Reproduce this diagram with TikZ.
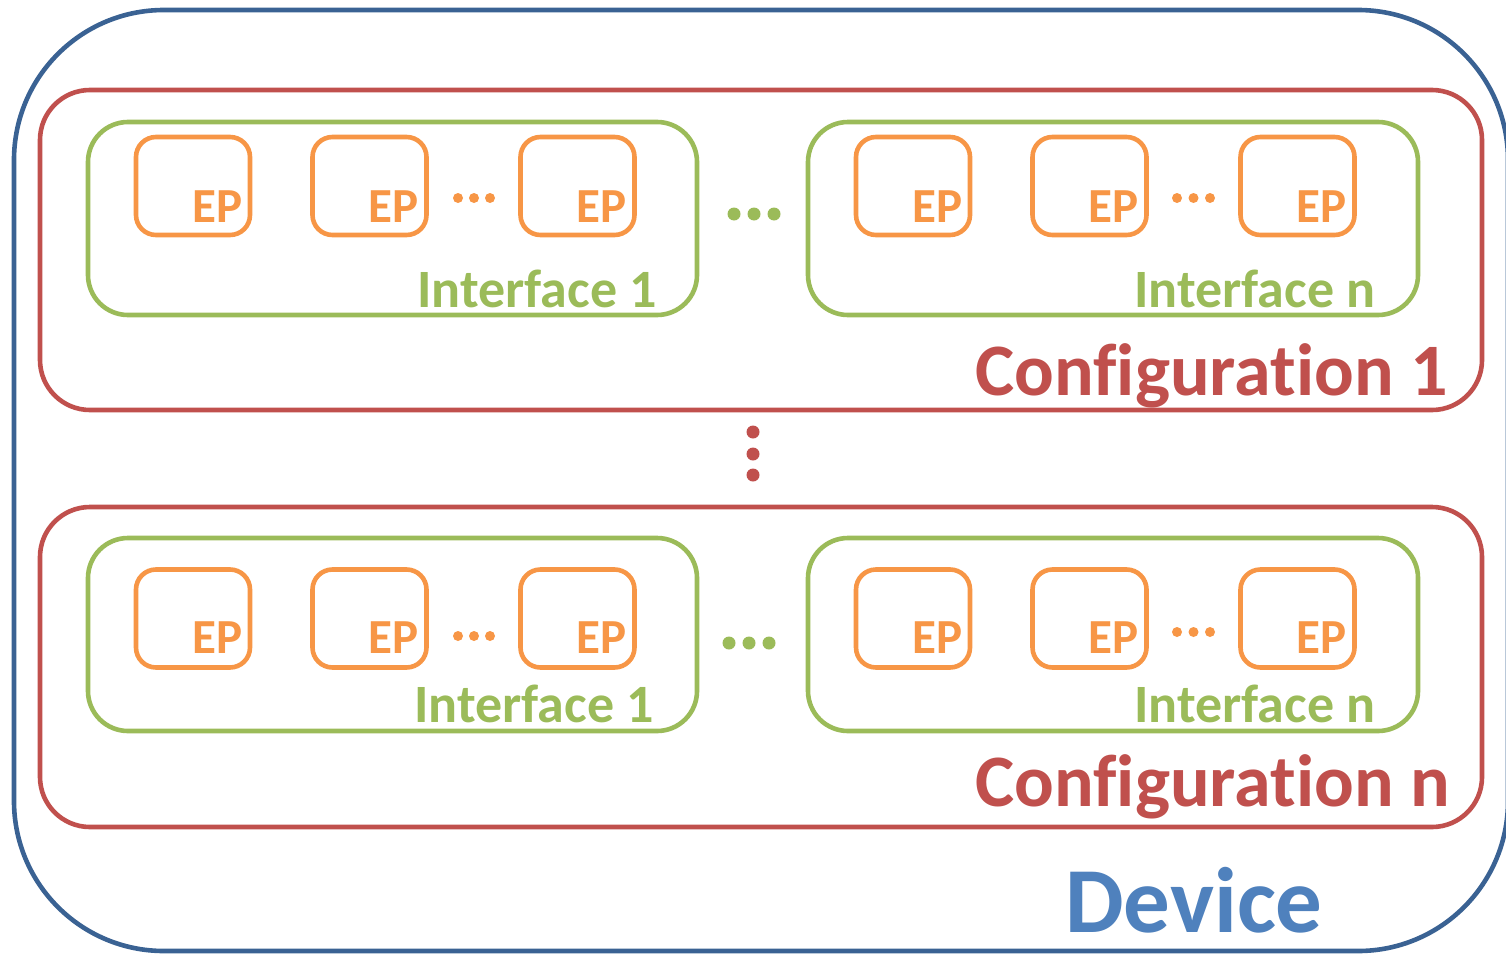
\documentclass[tikz,border=0pt]{standalone}
\usepackage{fontspec}
\setmainfont{Carlito}[RawFeature={-liga;-clig;-calt;-dlig}]
\definecolor{devline}{HTML}{3A6293}
\definecolor{devtext}{HTML}{4F81BD}
\definecolor{cfgred}{HTML}{C0504D}
\definecolor{ifgreen}{HTML}{9BBB59}
\definecolor{eporange}{HTML}{F79646}
\tikzset{
  box/.style={draw, rectangle, inner sep=0pt, line width=4.6pt},
  devbox/.style={box, devline, rounded corners=150pt},
  cfgbox/.style={box, cfgred, rounded corners=50pt},
  ifbox/.style={box, ifgreen, rounded corners=40pt},
  epbox/.style={box, eporange, rounded corners=20pt, minimum width=114pt, minimum height=98pt},
  lbl/.style={inner sep=0pt, anchor=base west, font=\bfseries},
  eplabel/.style={lbl, eporange, anchor=base east, font=\bfseries\fontsize{49}{52}\selectfont},
  iflabel/.style={lbl, ifgreen, font=\bfseries\fontsize{54}{60}\selectfont},
  cfglabel/.style={lbl, cfgred, font=\bfseries\fontsize{74}{80}\selectfont},
  devlabel/.style={lbl, devtext, font=\bfseries\fontsize{93}{100}\selectfont},
}
\begin{document}
\begin{tikzpicture}[x=1pt,y=-1pt]
\useasboundingbox (0,0) rectangle (1506,953);

% device frame
\node[devbox, minimum width=1494pt, minimum height=941pt] (dev) at (761,480.5) {};
\node[devlabel] (devtxt) at (1065,932) {Device};

% configurations
\node[cfgbox, minimum width=1442pt, minimum height=320pt] (cfg1) at (761,250) {};
\node[cfgbox, minimum width=1442pt, minimum height=320pt] (cfgn) at (761,667) {};
\node[cfglabel] (cfg1txt) at (975,395) {Configuration 1};
\node[cfglabel] (cfgntxt) at (975,806) {Configuration n};

% interfaces
\node[ifbox, minimum width=609pt, minimum height=193pt] (ifa1) at (392.5,218.5) {};
\node[ifbox, minimum width=610pt, minimum height=193pt] (ifb1) at (1113,218.5) {};
\node[ifbox, minimum width=609pt, minimum height=193pt] (ifa2) at (392.5,634.5) {};
\node[ifbox, minimum width=610pt, minimum height=193pt] (ifb2) at (1113,634.5) {};
\node[iflabel] (ifa1txt) at (417,307) {Interface 1};
\node[iflabel] (ifb1txt) at (1134,307) {Interface n};
\node[iflabel] (ifa2txt) at (414,722) {Interface 1};
\node[iflabel] (ifb2txt) at (1134,722) {Interface n};

% endpoints
\foreach \r/\y/\b in {1/186/15, 2/618.5/16} {
  \foreach \i/\x in {1/193, 2/369.5, 3/577.5, 4/913, 5/1089.5, 6/1297.5} {
    \node[epbox] (ep\r\i) at (\x,\y) {};
    \node[eplabel] (ep\r\i txt) at ([xshift=-10pt,yshift=\b pt]ep\r\i.south east) {EP};
  }
}

% ellipses between endpoints
\foreach \x/\y in {458/198, 474/198, 490/198, 1177/198, 1193.5/198, 1210/198,
                   458/636, 474/636, 490/636, 1177/632, 1193.5/632, 1210/632}
  \fill[eporange] (\x,\y) circle (5pt);

% ellipses between interfaces
\foreach \x/\y in {734/214, 754/214, 774/214, 729/643, 749/643, 769/643}
  \fill[ifgreen] (\x,\y) circle (6.5pt);

% ellipsis between configurations
\foreach \y in {432, 454, 475}
  \fill[cfgred] (753,\y) circle (6.5pt);
\end{tikzpicture}
\end{document}
